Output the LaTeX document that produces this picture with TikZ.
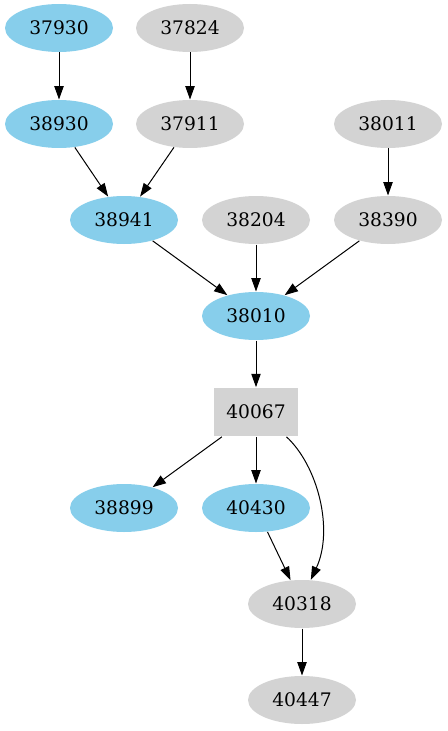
\documentclass[tikz,border=0pt]{standalone}
\usepackage{fontspec}
\setmainfont{DejaVu Serif}
\usetikzlibrary{shapes.geometric,arrows.meta}
\definecolor{skyblue}{RGB}{135,206,235}
\definecolor{lightgray}{RGB}{211,211,211}

\tikzset{every picture/.style={line width=0.75pt}}
\tikzset{
  bluenode/.style={ellipse, fill=skyblue, minimum width=81pt, minimum height=36pt, inner sep=0pt, font=\fontsize{14}{16}\selectfont},
  graynode/.style={ellipse, fill=lightgray, minimum width=81pt, minimum height=36pt, inner sep=0pt, font=\fontsize{14}{16}\selectfont},
  graybox/.style={rectangle, fill=lightgray, minimum width=63pt, minimum height=36.5pt, inner sep=0pt, font=\fontsize{14}{16}\selectfont},
  edgearrow/.style={-{Triangle[length=10pt,width=7pt]}, line width=0.75pt}
}

\begin{document}
\begin{tikzpicture}[x=0.75pt,y=0.75pt,yscale=-1,xscale=1]
\useasboundingbox (0,0) rectangle (447,731);

%Shape: Ellipse row 1
\node [bluenode] (n37930) at (59,28) {37930};
\node [graynode] (n37824) at (190,28) {37824};
%Shape: Ellipse row 2
\node [bluenode] (n38930) at (59,124) {38930};
\node [graynode] (n37911) at (190,124) {37911};
\node [graynode] (n38011) at (388,124) {38011};
%Shape: Ellipse row 3
\node [bluenode] (n38941) at (124,220) {38941};
\node [graynode] (n38204) at (256,220) {38204};
\node [graynode] (n38390) at (388,220) {38390};
%Shape: Ellipse row 4
\node [bluenode] (n38010) at (256,316) {38010};
%Shape: Rectangle
\node [graybox] (n40067) at (256,412) {40067};
%Shape: Ellipse row 6
\node [bluenode] (n38899) at (124,508) {38899};
\node [bluenode] (n40430) at (256,508) {40430};
%Shape: Ellipse row 7 and 8
\node [graynode] (n40318) at (302,604) {40318};
\node [graynode] (n40447) at (302,700) {40447};

%Straight Lines
\draw [edgearrow] (n37930) -- (n38930);
\draw [edgearrow] (n37824) -- (n37911);
\draw [edgearrow] (n38930) -- (n38941);
\draw [edgearrow] (n37911) -- (n38941);
\draw [edgearrow] (n38011) -- (n38390);
\draw [edgearrow] (n38941) -- (n38010);
\draw [edgearrow] (n38204) -- (n38010);
\draw [edgearrow] (n38390) -- (n38010);
\draw [edgearrow] (n38010) -- (n40067);
\draw [edgearrow] (n40067) -- (n38899);
\draw [edgearrow] (n40067) -- (n40430);
\draw [edgearrow] (n40430) -- (n40318);
\draw [edgearrow] (n40318) -- (n40447);
%Curve Lines
\draw [edgearrow] (n40067.south east) ++(-12,0) .. controls (318,466) and (334,530) .. (n40318.70);

\end{tikzpicture}
\end{document}
